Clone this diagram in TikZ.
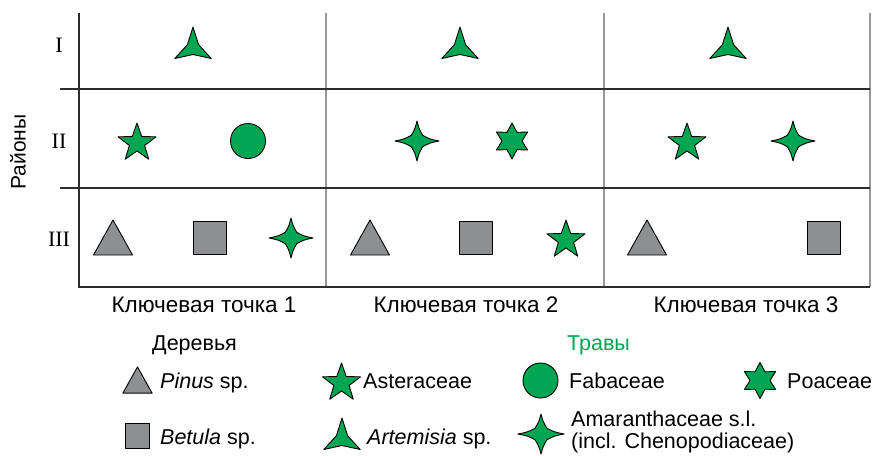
\documentclass[tikz,border=0pt]{standalone}
\usepackage{fontspec}
\setmainfont{Liberation Serif}
\setsansfont{Liberation Sans}
\definecolor{herbgreen}{RGB}{0,166,81}
\definecolor{treegrey}{RGB}{142,143,145}
\definecolor{sepgrey}{RGB}{150,150,150}
\definecolor{axisdark}{RGB}{45,45,45}
\tikzset{
  outline/.style={draw=black, line width=0.9pt, line join=round},
  herb/.style={outline, fill=herbgreen},
  tree/.style={outline, fill=treegrey},
  axisline/.style={draw=axisdark, line width=1.2pt},
  sepline/.style={draw=sepgrey, line width=1.2pt},
  roman/.style={font=\rmfamily\fontsize{22}{24}\selectfont, inner sep=0pt},
  lbl/.style={font=\sffamily\fontsize{21.5}{23}\selectfont, inner sep=0pt, anchor=base west},
  collbl/.style={font=\sffamily\fontsize{22.5}{24}\selectfont, inner sep=0pt, anchor=base},
  % taxon symbols
  pics/asterstar/.style={code={
    \draw[herb] (-90:20) -- (-54:8) -- (-18:20) -- (18:8) -- (54:20) -- (90:8)
      -- (126:20) -- (162:8) -- (198:20) -- (234:8) -- cycle;}},
  pics/poastar/.style={code={
    \draw[herb] (-90:18) -- (-60:10) -- (-30:18) -- (0:10) -- (30:18) -- (60:10)
      -- (90:18) -- (120:10) -- (150:18) -- (180:10) -- (210:18) -- (240:10) -- cycle;}},
  pics/amarstar/.style={code={
    \draw[herb] (0,-20) .. controls (2,-12.2) .. (5.7,-5.7)
      .. controls (12.5,-2) .. (22,0) .. controls (12.5,2) .. (5.7,5.7)
      .. controls (2,12.2) .. (0,20) .. controls (-2,12.2) .. (-5.7,5.7)
      .. controls (-12.5,2) .. (-22,0) .. controls (-12.5,-2) .. (-5.7,-5.7)
      .. controls (-2,-12.2) .. (0,-20) -- cycle;}},
  pics/artemstar/.style={code={
    \draw[herb] (-90:21) .. controls (-80:11.7) .. (-30:6.5)
      .. controls (20:11.7) .. (30:21) .. controls (40:11.7) .. (90:6.5)
      .. controls (140:11.7) .. (150:21) .. controls (160:11.7) .. (210:6.5)
      .. controls (260:11.7) .. (-90:21) -- cycle;}},
  pics/fabcircle/.style={code={\draw[herb] (0,0) circle[radius=17.5];}},
  pics/pintri/.style={code={\draw[tree] (0,-17.5) -- (19.5,17.5) -- (-19.5,17.5) -- cycle;}},
  pics/betsquare/.style={code={\draw[tree] (-16.5,-16.5) rectangle (16.5,16.5);}},
}
\begin{document}
\begin{tikzpicture}[x=1pt,y=-1pt]
\useasboundingbox (0,0) rectangle (874,455);

% grid frame
\coordinate (axTop) at (79,13);
\coordinate (axBot) at (79,287);
\coordinate (rEnd) at (870,287);
\draw[sepline] (326,13) -- (326,287);
\draw[sepline] (604,13) -- (604,287);
\draw[sepline] (870,13) -- (rEnd);
\draw[axisline] (60,89) -- (870,89);
\draw[axisline] (60,188) -- (870,188);
\draw[axisline] (axTop) -- (axBot) -- (rEnd);

% row and axis labels
\node[roman] (rI) at (59,45) {I};
\node[roman] (rII) at (59,141) {II};
\node[roman] (rIII) at (59,239) {III};
\node[font=\sffamily\fontsize{21}{23}\selectfont, inner sep=0pt, rotate=90] (regions) at (18,152) {Районы};
\node[collbl] (kp1) at (204,312) {Ключевая точка 1};
\node[collbl] (kp2) at (466,312) {Ключевая точка 2};
\node[collbl] (kp3) at (746,312) {Ключевая точка 3};

% region I
\pic (a11) at (193,48) {artemstar};
\pic (a12) at (460,48) {artemstar};
\pic (a13) at (728,48) {artemstar};

% region II
\pic (a21) at (137,143) {asterstar};
\pic (f21) at (248,141) {fabcircle};
\pic (m22) at (417,141) {amarstar};
\pic (p22) at (512,141) {poastar};
\pic (a23) at (687,143) {asterstar};
\pic (m23) at (793,141) {amarstar};

% region III
\pic (t31) at (113,237.5) {pintri};
\pic (s31) at (209.5,237.5) {betsquare};
\pic (m31) at (291,238) {amarstar};
\pic (t32) at (370,237.5) {pintri};
\pic (s32) at (475.5,237.5) {betsquare};
\pic (a32) at (566,240) {asterstar};
\pic (t33) at (647,237.5) {pintri};
\pic (s33) at (823.5,237.5) {betsquare};

% legend
\node[lbl] (trees) at (152,350) {Деревья};
\node[lbl, text=herbgreen] (herbs) at (567,350) {Травы};

\pic[scale=0.75] (lpin) at (137.5,380) {pintri};
\node[lbl] (tpin) at (160,388) {\textit{Pinus} sp.};
\pic[scale=0.75] (lbet) at (137.5,436) {betsquare};
\node[lbl] (tbet) at (160,444) {\textit{Betula} sp.};

\pic (last) at (341.5,383) {asterstar};
\node[lbl] (tast) at (363,388) {Asteraceae};
\pic (lart) at (342,439) {artemstar};
\node[lbl] (tart) at (367,444) {\textit{Artemisia} sp.};

\pic (lfab) at (540.5,380.5) {fabcircle};
\node[lbl] (tfab) at (569,388) {Fabaceae};
\pic (lpoa) at (760,380.5) {poastar};
\node[lbl] (tpoa) at (787,388) {Poaceae};

\pic[xscale=1.05] (lama) at (541,434) {amarstar};
\node[lbl] (tama1) at (571,426) {Amaranthaceae s.l.};
\node[lbl] (tama2) at (571,448) {(incl. Chenopodiaceae)};
\end{tikzpicture}
\end{document}
